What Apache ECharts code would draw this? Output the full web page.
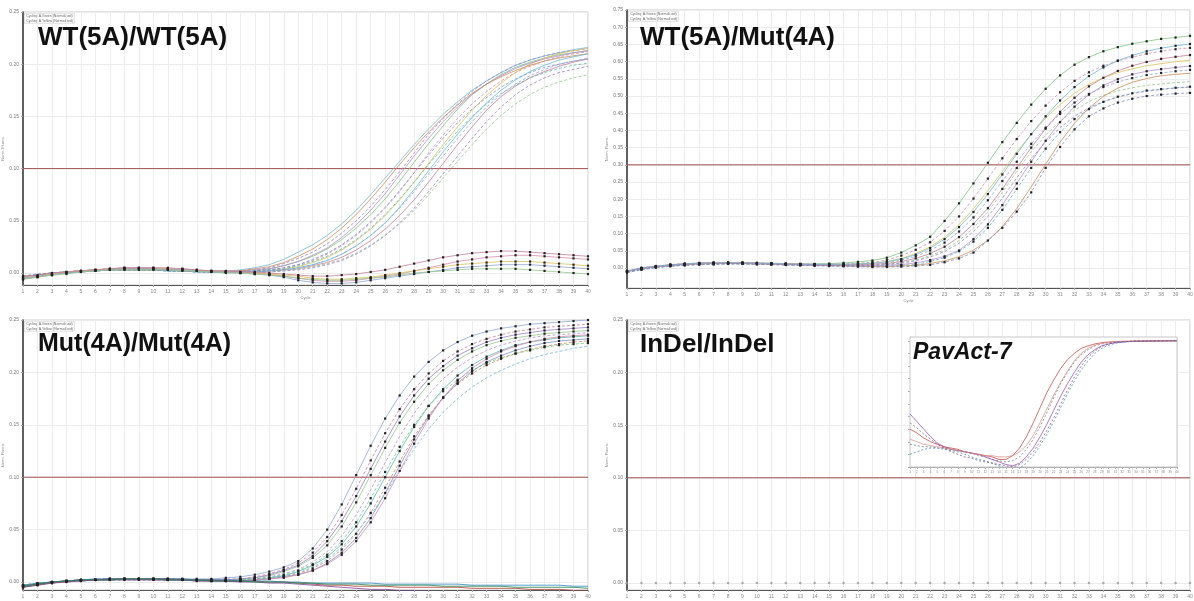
<!DOCTYPE html>
<html><head><meta charset="utf-8">
<script src="https://cdn.jsdelivr.net/npm/echarts@6/dist/echarts.min.js"></script>
<style>html,body{margin:0;padding:0;background:#fff}#c{width:1194px;height:601px}</style>
</head><body><div id="c"></div><script>
const cycles = [1,2,3,4,5,6,7,8,9,10,11,12,13,14,15,16,17,18,19,20,21,22,23,24,25,26,27,28,29,30,31,32,33,34,35,36,37,38,39,40];

// panel titles
const panelTitles = ['WT(5A)/WT(5A)', 'WT(5A)/Mut(4A)', 'Mut(4A)/Mut(4A)', 'InDel/InDel'];
const insetTitle = 'PavAct-7';

// y tick labels
const ticksP1 = [0, 0.05, 0.10, 0.15, 0.20, 0.25];
const ticksP2 = [0, 0.05, 0.10, 0.15, 0.20, 0.25, 0.30, 0.35, 0.40, 0.45, 0.50, 0.55, 0.60, 0.65, 0.70, 0.75];
const ticksP3 = [0, 0.05, 0.10, 0.15, 0.20, 0.25];
const ticksP4 = [0, 0.05, 0.10, 0.15, 0.20, 0.25];
const ticksInset = [0, 0.1, 0.2, 0.3, 0.4, 0.5, 0.6, 0.7, 0.8, 0.9, 1.0];
const thresholds = [0.10, 0.30, 0.10, 0.10];

// WT(5A)/WT(5A): amplifying curves
const wtwtAmp = [
 [-0.004,-0.002,0,0.001,0.002,0.003,0.003,0.004,0.004,0.004,0.003,0.003,0.002,0.002,0.002,0.003,0.005,0.008,0.013,0.020,0.027,0.036,0.047,0.060,0.075,0.091,0.107,0.123,0.138,0.152,0.164,0.175,0.184,0.192,0.199,0.204,0.208,0.211,0.214,0.216],
 [-0.003,-0.001,0,0.001,0.002,0.003,0.004,0.004,0.004,0.003,0.003,0.002,0.002,0.001,0.001,0.002,0.003,0.005,0.009,0.014,0.020,0.028,0.038,0.050,0.064,0.080,0.097,0.115,0.133,0.148,0.162,0.174,0.184,0.192,0.199,0.204,0.208,0.211,0.213,0.215],
 [-0.005,-0.003,-0.001,0.001,0.002,0.002,0.003,0.003,0.003,0.003,0.002,0.002,0.001,0.001,0.001,0.001,0.002,0.004,0.007,0.011,0.016,0.023,0.032,0.043,0.056,0.071,0.088,0.106,0.124,0.141,0.157,0.171,0.181,0.190,0.197,0.202,0.206,0.209,0.211,0.213],
 [-0.004,-0.002,0,0.001,0.002,0.003,0.004,0.005,0.005,0.004,0.004,0.003,0.002,0.002,0.001,0.001,0.002,0.003,0.005,0.008,0.012,0.018,0.026,0.036,0.048,0.062,0.078,0.096,0.115,0.132,0.148,0.162,0.174,0.184,0.192,0.198,0.203,0.207,0.210,0.212],
 [-0.003,-0.002,0,0.001,0.001,0.002,0.003,0.003,0.003,0.003,0.003,0.002,0.002,0.001,0.001,0.001,0.001,0.002,0.004,0.006,0.010,0.015,0.022,0.031,0.042,0.055,0.070,0.087,0.105,0.123,0.140,0.156,0.170,0.182,0.192,0.200,0.206,0.210,0.213,0.215],
 [-0.004,-0.003,-0.001,0,0.001,0.002,0.003,0.003,0.003,0.003,0.002,0.002,0.001,0.001,0,0,0.001,0.002,0.003,0.005,0.008,0.012,0.018,0.026,0.036,0.048,0.062,0.078,0.095,0.112,0.129,0.145,0.159,0.171,0.181,0.189,0.195,0.200,0.203,0.206],
 [-0.005,-0.003,-0.001,0.001,0.002,0.003,0.004,0.004,0.004,0.004,0.003,0.003,0.002,0.001,0.001,0.001,0.001,0.002,0.003,0.004,0.007,0.010,0.015,0.022,0.031,0.042,0.055,0.070,0.087,0.105,0.123,0.140,0.156,0.169,0.179,0.187,0.193,0.198,0.202,0.205],
 [-0.003,-0.002,0,0.001,0.002,0.002,0.003,0.003,0.003,0.003,0.002,0.002,0.001,0.001,0.001,0.001,0.001,0.001,0.002,0.004,0.006,0.009,0.013,0.019,0.027,0.036,0.047,0.060,0.075,0.091,0.107,0.123,0.138,0.151,0.162,0.171,0.178,0.183,0.187,0.190],
 [-0.004,-0.002,-0.001,0.001,0.002,0.003,0.003,0.004,0.004,0.003,0.003,0.002,0.002,0.001,0.001,0.002,0.003,0.004,0.007,0.011,0.017,0.024,0.034,0.046,0.060,0.076,0.094,0.112,0.129,0.145,0.159,0.171,0.181,0.189,0.196,0.201,0.205,0.208,0.211,0.213],
 [-0.003,-0.001,0,0.001,0.002,0.002,0.003,0.003,0.003,0.003,0.002,0.002,0.001,0.001,0.001,0.001,0.002,0.003,0.004,0.007,0.011,0.016,0.023,0.032,0.043,0.056,0.071,0.087,0.104,0.120,0.136,0.150,0.162,0.172,0.180,0.187,0.192,0.196,0.199,0.201],
 [-0.004,-0.002,0,0.001,0.002,0.003,0.003,0.003,0.003,0.003,0.003,0.002,0.002,0.002,0.002,0.002,0.004,0.006,0.010,0.016,0.023,0.032,0.043,0.056,0.071,0.087,0.104,0.120,0.135,0.149,0.161,0.172,0.181,0.188,0.194,0.199,0.203,0.206,0.208,0.210],
 [-0.003,-0.002,0,0.001,0.002,0.002,0.003,0.003,0.003,0.003,0.002,0.002,0.002,0.001,0.001,0.001,0.002,0.003,0.005,0.008,0.013,0.019,0.027,0.037,0.049,0.063,0.079,0.096,0.113,0.129,0.144,0.157,0.168,0.178,0.186,0.192,0.197,0.200,0.203,0.205],
 [-0.005,-0.003,-0.001,0,0.001,0.002,0.003,0.003,0.003,0.003,0.002,0.002,0.001,0.001,0.001,0.001,0.001,0.002,0.003,0.005,0.008,0.012,0.018,0.026,0.036,0.048,0.063,0.080,0.098,0.116,0.133,0.149,0.163,0.175,0.185,0.193,0.199,0.204,0.207,0.210],
 [-0.004,-0.002,0,0.001,0.002,0.002,0.003,0.003,0.003,0.003,0.002,0.002,0.001,0.001,0.001,0.001,0.001,0.001,0.002,0.003,0.005,0.008,0.012,0.018,0.026,0.036,0.048,0.062,0.078,0.095,0.112,0.129,0.145,0.159,0.171,0.180,0.187,0.192,0.195,0.198]
];
// WT(5A)/WT(5A): non-amplifying (marked) curves
const wtwtFlat = [
 [-0.006,-0.004,-0.002,0,0.002,0.003,0.004,0.005,0.005,0.005,0.004,0.004,0.003,0.002,0.001,0.001,0,-0.001,-0.003,-0.005,-0.007,-0.008,-0.008,-0.007,-0.005,-0.003,-0.001,0.002,0.005,0.008,0.011,0.013,0.015,0.016,0.017,0.017,0.016,0.015,0.014,0.013],
 [-0.004,-0.003,-0.001,0.001,0.002,0.003,0.004,0.004,0.004,0.004,0.004,0.003,0.002,0.002,0.001,0,0,-0.001,-0.002,-0.003,-0.005,-0.006,-0.006,-0.005,-0.004,-0.002,0,0.002,0.004,0.006,0.008,0.009,0.010,0.011,0.011,0.011,0.010,0.009,0.008,0.007],
 [-0.005,-0.003,-0.002,0,0.001,0.002,0.003,0.004,0.004,0.004,0.003,0.003,0.002,0.001,0.001,0,-0.001,-0.002,-0.004,-0.007,-0.009,-0.010,-0.010,-0.009,-0.007,-0.005,-0.003,-0.001,0.001,0.003,0.005,0.006,0.007,0.008,0.008,0.008,0.007,0.006,0.005,0.004],
 [-0.003,-0.002,0,0.001,0.002,0.003,0.004,0.005,0.005,0.005,0.005,0.004,0.003,0.002,0.002,0.001,0.001,0,-0.001,-0.002,-0.003,-0.003,-0.002,-0.001,0.001,0.003,0.006,0.009,0.012,0.015,0.017,0.019,0.020,0.021,0.021,0.020,0.019,0.018,0.017,0.016],
 [-0.006,-0.004,-0.002,-0.001,0.001,0.002,0.003,0.003,0.003,0.003,0.003,0.002,0.002,0.001,0,0,-0.001,-0.002,-0.003,-0.005,-0.006,-0.007,-0.007,-0.006,-0.005,-0.004,-0.002,0,0.001,0.002,0.003,0.004,0.004,0.004,0.004,0.003,0.002,0.001,0,-0.001]
];
// WT(5A)/Mut(4A)
const wtmutAmp = [
 [-0.01,0,0.005,0.01,0.012,0.014,0.015,0.016,0.016,0.015,0.014,0.013,0.012,0.012,0.013,0.015,0.018,0.022,0.030,0.045,0.066,0.091,0.137,0.188,0.246,0.306,0.366,0.422,0.475,0.521,0.560,0.591,0.613,0.630,0.642,0.652,0.659,0.666,0.670,0.675],
 [-0.008,0.001,0.006,0.01,0.013,0.015,0.016,0.016,0.016,0.015,0.014,0.013,0.012,0.011,0.011,0.012,0.014,0.017,0.023,0.036,0.053,0.075,0.108,0.150,0.202,0.260,0.319,0.375,0.427,0.472,0.511,0.544,0.569,0.588,0.602,0.613,0.623,0.630,0.636,0.640],
 [-0.01,-0.002,0.004,0.008,0.011,0.013,0.014,0.015,0.015,0.014,0.013,0.012,0.011,0.01,0.01,0.01,0.012,0.014,0.019,0.028,0.042,0.062,0.089,0.126,0.172,0.225,0.281,0.338,0.389,0.436,0.475,0.508,0.534,0.553,0.568,0.579,0.588,0.594,0.600,0.604],
 [-0.012,-0.003,0.003,0.007,0.01,0.012,0.013,0.014,0.014,0.013,0.012,0.011,0.01,0.009,0.009,0.009,0.01,0.011,0.015,0.023,0.034,0.051,0.074,0.106,0.147,0.197,0.253,0.309,0.361,0.408,0.448,0.481,0.506,0.526,0.541,0.552,0.561,0.567,0.572,0.576],
 [-0.009,0,0.005,0.009,0.012,0.014,0.015,0.015,0.015,0.014,0.013,0.012,0.011,0.01,0.009,0.009,0.01,0.011,0.013,0.019,0.028,0.042,0.062,0.090,0.128,0.174,0.230,0.291,0.350,0.405,0.454,0.495,0.528,0.553,0.573,0.588,0.599,0.608,0.614,0.619],
 [-0.011,-0.003,0.003,0.007,0.01,0.012,0.013,0.013,0.013,0.012,0.011,0.01,0.009,0.008,0.008,0.008,0.008,0.009,0.011,0.016,0.023,0.036,0.053,0.080,0.116,0.164,0.220,0.281,0.338,0.386,0.427,0.459,0.484,0.502,0.515,0.524,0.531,0.535,0.539,0.542],
 [-0.01,-0.001,0.004,0.008,0.011,0.013,0.014,0.014,0.014,0.013,0.012,0.011,0.01,0.009,0.008,0.007,0.007,0.007,0.008,0.010,0.015,0.023,0.034,0.051,0.084,0.127,0.183,0.246,0.309,0.370,0.424,0.469,0.504,0.531,0.549,0.563,0.572,0.578,0.583,0.587],
 [-0.013,-0.005,0.001,0.005,0.008,0.01,0.011,0.012,0.012,0.011,0.01,0.009,0.008,0.007,0.006,0.006,0.005,0.005,0.006,0.008,0.010,0.019,0.030,0.049,0.077,0.117,0.169,0.230,0.291,0.347,0.395,0.433,0.462,0.483,0.498,0.508,0.516,0.520,0.524,0.527],
 [-0.01,-0.002,0.003,0.007,0.01,0.012,0.013,0.013,0.013,0.012,0.011,0.01,0.009,0.008,0.007,0.006,0.005,0.004,0.004,0.006,0.008,0.013,0.021,0.033,0.052,0.080,0.120,0.173,0.236,0.302,0.366,0.421,0.465,0.499,0.523,0.540,0.551,0.559,0.563,0.566],
 [-0.012,-0.004,0.002,0.006,0.008,0.01,0.011,0.012,0.012,0.011,0.01,0.009,0.008,0.007,0.006,0.005,0.004,0.003,0.003,0.004,0.006,0.009,0.017,0.028,0.045,0.080,0.117,0.164,0.220,0.291,0.352,0.403,0.441,0.464,0.481,0.492,0.500,0.504,0.507,0.509],
 [-0.009,0,0.005,0.009,0.012,0.014,0.015,0.015,0.015,0.014,0.013,0.012,0.011,0.011,0.011,0.011,0.012,0.014,0.018,0.026,0.039,0.058,0.084,0.119,0.163,0.215,0.272,0.332,0.389,0.441,0.487,0.526,0.558,0.583,0.603,0.618,0.630,0.639,0.646,0.651],
 [-0.011,-0.003,0.002,0.006,0.009,0.011,0.012,0.013,0.013,0.012,0.011,0.010,0.009,0.008,0.007,0.007,0.007,0.008,0.010,0.014,0.021,0.032,0.048,0.072,0.106,0.150,0.203,0.262,0.318,0.367,0.408,0.441,0.466,0.484,0.497,0.507,0.514,0.519,0.523,0.526]
];
// Mut(4A)/Mut(4A)
const mutmutAmp = [
 [-0.004,-0.002,0,0.001,0.002,0.002,0.003,0.003,0.003,0.003,0.003,0.003,0.003,0.003,0.004,0.005,0.007,0.010,0.014,0.020,0.032,0.050,0.074,0.102,0.130,0.156,0.178,0.196,0.210,0.221,0.229,0.235,0.239,0.242,0.244,0.246,0.247,0.248,0.249,0.250],
 [-0.003,-0.001,0,0.001,0.002,0.002,0.003,0.003,0.003,0.003,0.003,0.003,0.002,0.002,0.003,0.003,0.005,0.008,0.012,0.018,0.028,0.043,0.064,0.089,0.116,0.142,0.165,0.184,0.199,0.211,0.220,0.227,0.232,0.236,0.239,0.241,0.243,0.244,0.245,0.246],
 [-0.005,-0.003,-0.001,0.001,0.002,0.002,0.003,0.003,0.003,0.003,0.002,0.002,0.002,0.002,0.002,0.003,0.004,0.006,0.010,0.015,0.023,0.035,0.053,0.076,0.102,0.128,0.152,0.172,0.189,0.202,0.212,0.220,0.226,0.230,0.233,0.235,0.237,0.238,0.239,0.240],
 [-0.004,-0.002,0,0.001,0.002,0.003,0.003,0.003,0.003,0.003,0.003,0.002,0.002,0.002,0.002,0.002,0.003,0.005,0.008,0.012,0.019,0.029,0.044,0.064,0.088,0.114,0.139,0.161,0.179,0.194,0.205,0.214,0.221,0.226,0.230,0.233,0.235,0.236,0.237,0.238],
 [-0.003,-0.002,0,0.001,0.001,0.002,0.002,0.003,0.003,0.003,0.002,0.002,0.002,0.001,0.001,0.002,0.002,0.004,0.006,0.010,0.016,0.024,0.036,0.053,0.075,0.100,0.125,0.148,0.168,0.184,0.197,0.207,0.215,0.221,0.226,0.229,0.231,0.233,0.234,0.235],
 [-0.005,-0.003,-0.001,0,0.001,0.002,0.002,0.002,0.002,0.002,0.002,0.002,0.001,0.001,0.001,0.001,0.002,0.003,0.005,0.008,0.013,0.020,0.031,0.046,0.066,0.090,0.115,0.139,0.159,0.176,0.189,0.199,0.207,0.213,0.218,0.222,0.225,0.227,0.229,0.230],
 [-0.004,-0.002,0,0.001,0.002,0.002,0.003,0.003,0.003,0.003,0.003,0.002,0.002,0.001,0.001,0.001,0.002,0.003,0.005,0.007,0.011,0.018,0.028,0.042,0.061,0.085,0.111,0.136,0.158,0.176,0.190,0.201,0.210,0.216,0.221,0.225,0.228,0.230,0.231,0.232],
 [-0.003,-0.002,0,0.001,0.001,0.002,0.002,0.002,0.002,0.002,0.002,0.002,0.001,0.001,0.001,0.002,0.003,0.004,0.006,0.009,0.014,0.022,0.033,0.047,0.064,0.084,0.106,0.127,0.146,0.162,0.175,0.186,0.195,0.202,0.208,0.213,0.217,0.220,0.223,0.225],
 [-0.004,-0.002,0,0.001,0.002,0.002,0.003,0.003,0.003,0.003,0.003,0.002,0.002,0.002,0.002,0.003,0.004,0.007,0.011,0.016,0.025,0.039,0.058,0.082,0.108,0.134,0.158,0.178,0.194,0.206,0.216,0.223,0.229,0.233,0.236,0.238,0.240,0.241,0.242,0.243],
 [-0.003,-0.001,0,0.001,0.002,0.002,0.002,0.003,0.003,0.003,0.002,0.002,0.002,0.001,0.001,0.002,0.003,0.004,0.007,0.011,0.017,0.026,0.039,0.057,0.080,0.105,0.129,0.150,0.168,0.182,0.193,0.202,0.209,0.214,0.218,0.221,0.224,0.226,0.227,0.228],
 [-0.004,-0.002,-0.001,0.001,0.001,0.002,0.002,0.003,0.003,0.002,0.002,0.002,0.001,0.001,0.001,0.001,0.002,0.003,0.004,0.007,0.011,0.017,0.026,0.039,0.057,0.080,0.106,0.132,0.156,0.176,0.192,0.204,0.213,0.220,0.225,0.229,0.232,0.234,0.235,0.236]
];
const mutmutFlat = [
 [-0.004,-0.002,0,0.001,0.002,0.002,0.003,0.003,0.003,0.003,0.003,0.002,0.002,0.002,0.001,0.001,0.001,0,0,-0.001,-0.002,-0.003,-0.003,-0.004,-0.004,-0.004,-0.005,-0.005,-0.005,-0.005,-0.005,-0.006,-0.006,-0.006,-0.006,-0.007,-0.007,-0.007,-0.008,-0.008],
 [-0.003,-0.001,0,0.001,0.002,0.003,0.003,0.003,0.003,0.003,0.003,0.003,0.002,0.002,0.002,0.001,0.001,0.001,0,0,-0.001,-0.001,-0.001,-0.001,-0.001,-0.002,-0.002,-0.002,-0.002,-0.002,-0.002,-0.003,-0.003,-0.003,-0.003,-0.003,-0.003,-0.003,-0.004,-0.004],
 [-0.005,-0.003,-0.001,0,0.001,0.002,0.002,0.002,0.002,0.002,0.002,0.002,0.001,0.001,0.001,0,0,-0.001,-0.001,-0.002,-0.003,-0.004,-0.005,-0.006,-0.007,-0.007,-0.008,-0.008,-0.009,-0.009,-0.009,-0.010,-0.010,-0.010,-0.011,-0.011,-0.011,-0.012,-0.012,-0.012],
 [-0.004,-0.002,0,0.001,0.002,0.002,0.002,0.003,0.003,0.003,0.002,0.002,0.002,0.001,0.001,0.001,0,0,0,-0.001,-0.001,-0.002,-0.002,-0.002,-0.003,-0.003,-0.003,-0.003,-0.003,-0.004,-0.004,-0.004,-0.004,-0.004,-0.005,-0.005,-0.005,-0.005,-0.005,-0.006]
];
// InDel/InDel: no amplification
const indelFlat = [0,0,0,0,0,0,0,0,0,0,0,0,0,0,0,0,0,0,0,0,0,0,0,0,0,0,0,0,0,0,0,0,0,0,0,0,0,0,0,0];
// PavAct-7 reference gene (inset)
const pavAct = [
 [0.30,0.27,0.23,0.20,0.18,0.16,0.15,0.14,0.12,0.11,0.10,0.09,0.08,0.06,0.06,0.09,0.15,0.24,0.35,0.47,0.59,0.69,0.78,0.85,0.90,0.94,0.96,0.975,0.985,0.99,0.993,0.995,0.996,0.997,0.998,0.998,0.999,0.999,1.0,1.0],
 [0.18,0.17,0.16,0.16,0.15,0.15,0.14,0.13,0.12,0.11,0.09,0.08,0.06,0.05,0.04,0.05,0.08,0.14,0.22,0.32,0.43,0.55,0.66,0.75,0.83,0.89,0.93,0.96,0.975,0.985,0.99,0.993,0.995,0.997,0.998,0.998,0.999,0.999,1.0,1.0],
 [0.42,0.36,0.30,0.24,0.19,0.16,0.14,0.13,0.12,0.11,0.10,0.08,0.06,0.04,0.02,0.01,0.03,0.08,0.15,0.24,0.34,0.45,0.56,0.66,0.75,0.83,0.89,0.93,0.96,0.975,0.985,0.99,0.994,0.996,0.997,0.998,0.999,0.999,1.0,1.0],
 [0.10,0.12,0.14,0.15,0.15,0.14,0.13,0.12,0.10,0.08,0.06,0.05,0.03,0.01,-0.01,-0.02,-0.01,0.03,0.09,0.17,0.26,0.36,0.47,0.58,0.68,0.77,0.84,0.90,0.94,0.965,0.98,0.988,0.993,0.996,0.997,0.998,0.999,0.999,1.0,1.0],
 [0.22,0.20,0.18,0.17,0.16,0.15,0.14,0.13,0.12,0.11,0.10,0.09,0.09,0.08,0.08,0.09,0.12,0.17,0.25,0.35,0.46,0.57,0.67,0.76,0.84,0.90,0.94,0.965,0.98,0.988,0.993,0.996,0.997,0.998,0.999,0.999,1.0,1.0,1.0,1.0],
 [0.35,0.31,0.26,0.22,0.18,0.15,0.12,0.10,0.08,0.07,0.05,0.04,0.03,0.02,0.01,0.0,0.02,0.06,0.12,0.20,0.29,0.39,0.50,0.61,0.71,0.80,0.87,0.92,0.955,0.975,0.986,0.992,0.995,0.997,0.998,0.999,0.999,1.0,1.0,1.0]
];

const palette = ['#6fb7d9','#9b7fc9','#7cc47f','#d58bb0','#d9c25a','#8fa7d6','#c77d9a','#93c98b','#b38fd1','#5fb5b5','#c98a5a','#7d8fc9'];
const FONT = 'Liberation Sans, Arial, sans-serif';
const THRESH_COLOR = '#a34f4f';

const grids = [
  {left: 23, top: 12, width: 565, height: 273},
  {left: 627, top: 10, width: 563, height: 278},
  {left: 23, top: 320, width: 565, height: 270},
  {left: 627, top: 320, width: 563, height: 270},
  {left: 910, top: 337, width: 267, height: 130}
];
const yRanges = [[-0.0115, 0.25], [-0.058, 0.75], [-0.0076, 0.25], [-0.0067, 0.25], [0, 1.03]];
const yTickSets = [ticksP1, ticksP2, ticksP3, ticksP4, ticksInset];

const titleStyle = size => ({fontSize: size, fontWeight: 'bold', color: '#111', fontFamily: FONT});

const option = {
  animation: false,
  backgroundColor: '#fff',
  textStyle: {fontFamily: FONT},
  grid: grids.map((g, i) => Object.assign({show: true, borderColor: '#c8c8c8', borderWidth: 1, backgroundColor: '#fff',
    containLabel: false, outerBoundsMode: 'none', z: i === 4 ? 5 : 0}, g)),
  xAxis: grids.map((g, i) => ({
    type: 'value', gridIndex: i, min: 1, max: 40, interval: 1,
    name: i === 4 ? '' : 'Cycle', nameLocation: 'middle', nameGap: i === 4 ? 8 : 11,
    nameTextStyle: {fontSize: 4, color: '#888'},
    axisLine: {show: true, onZero: false, lineStyle: {color: i === 4 ? '#999' : '#555', width: 1}},
    axisTick: {show: true, length: 2, lineStyle: {color: '#aaa'}},
    axisLabel: {fontSize: i === 4 ? 3 : 5, color: '#888', margin: 4},
    splitLine: {show: true, lineStyle: {color: '#ececec', width: 1}}
  })),
  yAxis: grids.map((g, i) => ({
    type: 'value', gridIndex: i, min: yRanges[i][0], max: yRanges[i][1],
    name: i === 4 ? '' : 'Norm. Fluoro.', nameLocation: 'middle', nameGap: i % 2 === 0 ? 14 : 16,
    nameTextStyle: {fontSize: 4, color: '#888'},
    axisLine: {show: true, onZero: false, lineStyle: {color: i === 4 ? '#999' : '#333', width: i === 4 ? 1 : 1.5}},
    axisTick: {show: true, length: 2, customValues: yTickSets[i], lineStyle: {color: '#aaa'}},
    axisLabel: {fontSize: i === 4 ? 3 : 5, color: '#777', margin: 4, customValues: yTickSets[i],
      formatter: v => i === 4 ? '' : v.toFixed(2)},
    splitLine: {show: true, lineStyle: {color: '#ececec', width: 1}}
  })),
  title: [
    {text: panelTitles[0], left: 38, top: 25, padding: 0, textStyle: titleStyle(26)},
    {text: panelTitles[1], left: 640, top: 25, padding: 0, textStyle: titleStyle(26)},
    {text: panelTitles[2], left: 38, top: 332, padding: 0, textStyle: titleStyle(25)},
    {text: panelTitles[3], left: 640, top: 332, padding: 0, textStyle: titleStyle(26)},
    {text: insetTitle, left: 913, top: 341, padding: 0, textStyle: {fontSize: 23, fontStyle: 'italic', fontWeight: 'bold', color: '#111', fontFamily: FONT}}
  ],
  graphic: [],
  series: []
};

// tiny channel legend boxes in each panel
[[24, 13], [628, 11], [24, 321], [628, 321]].forEach(([x, y]) => {
  option.graphic.push({type: 'group', left: x, top: y, children: [
    {type: 'rect', shape: {x: 0, y: 0, width: 50, height: 10}, style: {fill: '#fff', stroke: '#bbb', lineWidth: 0.5}},
    {type: 'text', x: 2, y: 1, style: {text: 'Cycling A.Green (Normalised)', fontSize: 3.5, fill: '#666', fontFamily: FONT}},
    {type: 'text', x: 2, y: 5.5, style: {text: 'Cycling A.Yellow (Normalised)', fontSize: 3.5, fill: '#666', fontFamily: FONT}}
  ]});
});

function curve(arr, gi, color, extra) {
  return Object.assign({
    type: 'line', xAxisIndex: gi, yAxisIndex: gi, silent: true,
    data: cycles.map((c, k) => [c, arr[k]]),
    showSymbol: false, symbol: 'none',
    lineStyle: {width: 0.8, color: color},
    z: gi === 4 ? 6 : 2
  }, extra || {});
}
const marked = {showSymbol: true, symbol: 'rect', symbolSize: 2.2, itemStyle: {color: '#222'}};

// threshold lines (drawn first, under the curves)
thresholds.forEach((t, i) => option.series.push({
  type: 'line', xAxisIndex: i, yAxisIndex: i, silent: true, z: 1,
  symbol: 'none', showSymbol: false,
  lineStyle: {color: THRESH_COLOR, width: 1, type: 'solid'},
  itemStyle: {color: THRESH_COLOR},
  label: {show: false},
  data: [
    {value: [cycles[0], t], label: {show: true, position: 'bottom', align: 'left', offset: [1, -2], formatter: 'Threshold', fontSize: 4, color: '#555'}},
    {value: [cycles[cycles.length - 1], t]}
  ]
}));

wtwtAmp.forEach((a, k) => option.series.push(curve(a, 0, palette[k % palette.length], {lineStyle: {width: 0.8, color: palette[k % palette.length], type: k % 2 ? [3, 2] : 'solid'}})));
wtwtFlat.forEach((a, k) => option.series.push(curve(a, 0, palette[(k + 3) % palette.length], marked)));
wtmutAmp.forEach((a, k) => option.series.push(curve(a, 1, palette[(k + 2) % palette.length], Object.assign({}, k % 3 === 2 ? {} : marked, {lineStyle: {width: 0.8, color: palette[(k + 2) % palette.length], type: k % 2 ? [3, 2] : 'solid'}}))));
mutmutAmp.forEach((a, k) => option.series.push(curve(a, 2, palette[(k + 5) % palette.length], Object.assign({}, k % 4 === 3 ? {} : marked, {lineStyle: {width: 0.8, color: palette[(k + 5) % palette.length], type: k % 2 ? [3, 2] : 'solid'}}))));
mutmutFlat.forEach((a, k) => option.series.push(curve(a, 2, ['#b03a2e', '#2e86c1', '#7d3c98', '#1e8449'][k])));
option.series.push({type: 'scatter', xAxisIndex: 3, yAxisIndex: 3, silent: true, symbol: 'circle', symbolSize: 2.5,
  itemStyle: {color: '#999'}, data: cycles.map((c, k) => [c, indelFlat[k]])});
const insetColors = ['#c0392b', '#5d6d7e', '#8e44ad', '#2980b9', '#d98880', '#76448a'];
pavAct.forEach((a, k) => option.series.push(curve(a, 4, insetColors[k], {lineStyle: {width: 0.7, color: insetColors[k], type: k % 2 ? [2, 2] : 'solid'}})));

const chart = echarts.init(document.getElementById('c'), null, {renderer: 'canvas'});
chart.setOption(option);
</script></body></html>
